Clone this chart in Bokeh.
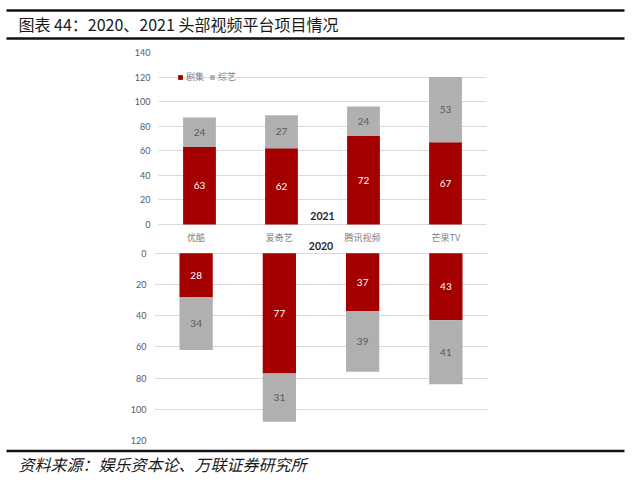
from bokeh.plotting import figure
from bokeh.models import (Range1d, FactorRange, FixedTicker, Label, Legend,
                          LegendItem, ColumnDataSource)
from bokeh.layouts import column
from bokeh.embed import file_html
from bokeh.resources import INLINE
from bokeh.core.properties import value

# ---------------- data ----------------
platforms = ["优酷", "爱奇艺", "腾讯视频", "芒果TV"]
series = ["剧集", "综艺"]
drama_2021 = [63, 62, 72, 67]
variety_2021 = [24, 27, 24, 53]
drama_2020 = [28, 77, 37, 43]
variety_2020 = [34, 31, 39, 41]
ticks_2021 = [0, 20, 40, 60, 80, 100, 120, 140]
ticks_2020 = [0, 20, 40, 60, 80, 100, 120]
year_top = "2021"
year_bottom = "2020"
title_text = "图表 44：2020、2021 头部视频平台项目情况"
source_text = "资料来源：娱乐资本论、万联证券研究所"

# ---------------- style ----------------
RED = "#A50000"
GRAY = "#B0B0B0"
GRID = "#D9D9D9"
TICK_TXT = "#595959"
CAT_TXT = "#7F7F7F"
CJK = "Noto Sans CJK SC"
NUM = "Lato"
W = 640


def base_fig(**kw):
    return figure(output_backend="svg", toolbar_location=None,
                  outline_line_color=None, frame_align=False, **kw)


# ---------------- header ----------------
HH = 47
hdr = base_fig(width=W, height=HH, x_range=Range1d(0, W), y_range=Range1d(HH, 0),
               min_border=0, x_axis_location=None, y_axis_location=None)
hdr.grid.visible = False
hdr.segment(x0=[6, 6], y0=[10, 38], x1=[624, 624], y1=[10, 38],
            line_width=2.5, line_color="#111111")
hdr.text(x=[18], y=[23.5], text=[title_text], text_font=value(CJK),
         text_font_size="16px", text_baseline="middle", text_color="#1A1A1A")


def style_yaxis(p, ticks):
    p.yaxis.ticker = FixedTicker(ticks=ticks)
    p.ygrid.ticker = FixedTicker(ticks=ticks)
    p.yaxis.axis_line_color = None
    p.yaxis.major_tick_line_color = None
    p.yaxis.minor_tick_line_color = None
    p.yaxis.major_tick_out = 0
    p.yaxis.major_tick_in = 0
    p.yaxis.major_label_standoff = 8
    p.yaxis.major_label_text_font = NUM
    p.yaxis.major_label_text_font_size = "9px"
    p.yaxis.major_label_text_color = TICK_TXT
    p.ygrid.grid_line_color = GRID
    p.ygrid.grid_line_width = 1
    p.xgrid.visible = False


def value_labels(p, drama, variety):
    xs = platforms + platforms
    ys = [d / 2 for d in drama] + [d + v / 2 for d, v in zip(drama, variety)]
    ts = [str(d) for d in drama] + [str(v) for v in variety]
    cs = ["#FFFFFF"] * len(drama) + [TICK_TXT] * len(variety)
    src = ColumnDataSource(dict(x=xs, y=ys, t=ts, c=cs))
    p.text(x="x", y="y", text="t", text_color="c", source=src,
           text_align="center", text_baseline="middle",
           text_font=value(NUM), text_font_size="10px")


# ---------------- top panel (2021) ----------------
top = base_fig(width=W, height=183, x_range=FactorRange(*platforms),
               y_range=Range1d(-4.88, 140),
               min_border_left=158, min_border_right=W - 158 - 328,
               min_border_top=5, min_border_bottom=0,
               x_axis_location=None)
style_yaxis(top, ticks_2021)
src21 = ColumnDataSource({"platform": platforms, series[0]: drama_2021, series[1]: variety_2021})
rs = top.vbar_stack(series, x="platform", width=0.4, color=[RED, GRAY],
                    line_color=None, source=src21)
value_labels(top, drama_2021, variety_2021)
top.add_layout(Label(x=2.0, y=6.9, text=year_top, text_align="center",
                     text_baseline="middle", text_font=NUM, text_font_size="10.5px",
                     text_font_style="bold", text_color="#262626"))
legend = Legend(items=[LegendItem(label=series[0], renderers=[rs[0]]),
                       LegendItem(label=series[1], renderers=[rs[1]])],
                location=(19, 147), orientation="horizontal",
                border_line_color=None, background_fill_alpha=0,
                padding=0, margin=0, spacing=5, glyph_width=6, glyph_height=6,
                label_standoff=3, label_height=10, label_width=10,
                label_text_font=CJK, label_text_font_size="9px",
                label_text_color=CAT_TXT)
top.add_layout(legend)

# ---------------- bottom panel (2020) ----------------
bot = base_fig(width=W, height=216, x_range=FactorRange(*platforms),
               y_range=Range1d(120, -14.54),
               min_border_left=154, min_border_right=W - 154 - 333,
               min_border_top=0, min_border_bottom=6,
               x_axis_location="above")
style_yaxis(bot, ticks_2020)
bot.xaxis.fixed_location = -5.70
bot.xaxis.axis_line_color = None
bot.xaxis.major_tick_line_color = None
bot.xaxis.major_tick_out = 0
bot.xaxis.major_tick_in = 0
bot.xaxis.major_label_standoff = 0
bot.xaxis.major_label_text_font = CJK
bot.xaxis.major_label_text_font_size = "9px"
bot.xaxis.major_label_text_color = CAT_TXT
src20 = ColumnDataSource({"platform": platforms, series[0]: drama_2020, series[1]: variety_2020})
bot.vbar_stack(series, x="platform", width=0.4, color=[RED, GRAY],
               line_color=None, source=src20)
value_labels(bot, drama_2020, variety_2020)
bot.text(x=[2.0], y=[-4.61], text=[year_bottom], text_align="center",
         text_baseline="middle", text_font=value(NUM), text_font_size="10.5px",
         text_font_style="bold", text_color="#262626")

# ---------------- footer ----------------
FH = 37
ftr = base_fig(width=W, height=FH, x_range=Range1d(0, W), y_range=Range1d(FH, 0),
               min_border=0, x_axis_location=None, y_axis_location=None)
ftr.grid.visible = False
ftr.segment(x0=[6], y0=[4.5], x1=[624], y1=[4.5], line_width=2.5, line_color="#111111")
ftr.text(x=[18], y=[17], text=[source_text], text_font=value(CJK),
         text_font_size="16px", text_font_style="italic", text_baseline="middle",
         text_color="#1A1A1A")

layout = column(hdr, top, bot, ftr, spacing=0)
open("out.html", "w").write(file_html(layout, INLINE))
